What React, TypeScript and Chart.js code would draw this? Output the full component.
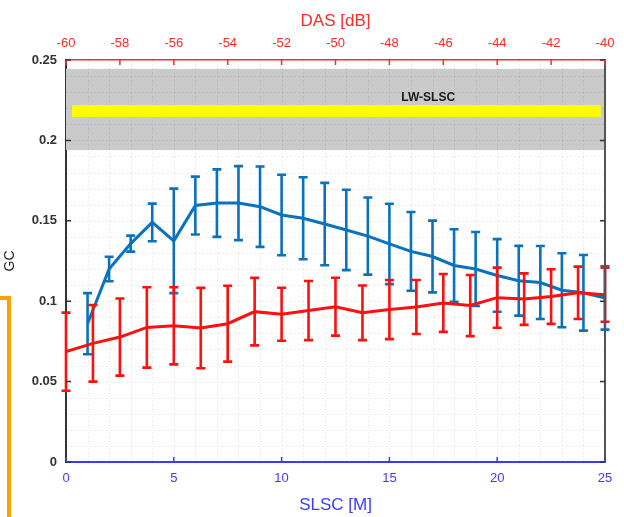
import React, { useEffect, useRef } from "react";
import { Chart, registerables } from "chart.js";

Chart.register(...registerables);

// ---- data ----
const slscM = [1, 2, 3, 4, 5, 6, 7, 8, 9, 10, 11, 12, 13, 14, 15, 16, 17, 18, 19, 20, 21, 22, 23, 24, 25];
const slscGC = [0.086, 0.12, 0.1358, 0.149, 0.1375, 0.1595, 0.161, 0.161, 0.1588, 0.1536, 0.1516, 0.148, 0.1443, 0.1405, 0.1356, 0.131, 0.1278, 0.1222, 0.12, 0.116, 0.1127, 0.1116, 0.1068, 0.1052, 0.102];
const slscErr = [0.019, 0.0076, 0.005, 0.0117, 0.0325, 0.018, 0.021, 0.023, 0.025, 0.025, 0.0255, 0.0256, 0.025, 0.024, 0.025, 0.0245, 0.0223, 0.0225, 0.023, 0.0226, 0.0217, 0.0227, 0.023, 0.0235, 0.0197];

const dasDB = [-60, -59, -58, -57, -56, -55, -54, -53, -52, -51, -50, -49, -48, -47, -46, -45, -44, -43, -42, -41, -40];
const dasGC = [0.0686, 0.0738, 0.0777, 0.0837, 0.0847, 0.0833, 0.086, 0.0935, 0.0919, 0.0942, 0.0966, 0.0928, 0.0948, 0.0964, 0.0989, 0.0973, 0.1022, 0.1013, 0.1029, 0.1052, 0.104];
const dasErr = [0.0243, 0.0238, 0.024, 0.025, 0.024, 0.025, 0.0236, 0.021, 0.0165, 0.0184, 0.018, 0.017, 0.0184, 0.0168, 0.018, 0.019, 0.0187, 0.016, 0.017, 0.0163, 0.0168];

const lwSlscGC = 0.2183;
const lwSlscBand = [0.194, 0.2445];
const lwSlscLabel = "LW-SLSC";
const lwSlscLabelX = 16.8;

const FONT = "'Liberation Sans', Arial, sans-serif";
const BLUE = "#0a72bd";
const RED = "#ff1010";
const AXBLUE = "#3b3bff";
const AXRED = "#ff2a2a";

const bgPlugin = {
  id: "bgPlugin",
  beforeDatasetsDraw(chart: any) {
    const { ctx, chartArea } = chart;
    const xs = chart.scales.x;
    const ys = chart.scales.y;
    ctx.save();
    // gray band
    const yTop = ys.getPixelForValue(lwSlscBand[1]);
    const yBot = ys.getPixelForValue(lwSlscBand[0]);
    ctx.fillStyle = "#cacaca";
    ctx.fillRect(chartArea.left, yTop, chartArea.right - chartArea.left, yBot - yTop);
    // minor grid
    ctx.strokeStyle = "rgba(0,0,0,0.07)";
    ctx.lineWidth = 1;
    ctx.setLineDash([2, 2]);
    for (let v = 1; v < 25; v++) {
      const x = Math.round(xs.getPixelForValue(v)) + 0.5;
      ctx.beginPath();
      ctx.moveTo(x, chartArea.top);
      ctx.lineTo(x, chartArea.bottom);
      ctx.stroke();
    }
    for (let k = 1; k < 25; k++) {
      const y = Math.round(ys.getPixelForValue(k / 100)) + 0.5;
      ctx.beginPath();
      ctx.moveTo(chartArea.left, y);
      ctx.lineTo(chartArea.right, y);
      ctx.stroke();
    }
    ctx.setLineDash([]);
    // yellow line
    const yy = ys.getPixelForValue(lwSlscGC);
    ctx.strokeStyle = "#ffff00";
    ctx.lineWidth = 12;
    ctx.beginPath();
    ctx.moveTo(xs.getPixelForValue(0.28), yy);
    ctx.lineTo(xs.getPixelForValue(24.8), yy);
    ctx.stroke();
    ctx.strokeStyle = "rgba(200,215,120,0.6)";
    ctx.lineWidth = 1;
    ctx.beginPath();
    ctx.moveTo(xs.getPixelForValue(0.28), yy + 10.5);
    ctx.lineTo(xs.getPixelForValue(24.8), yy + 10.5);
    ctx.stroke();
    // label
    ctx.fillStyle = "#1a1a1a";
    ctx.font = `bold 12px ${FONT}`;
    ctx.textAlign = "center";
    ctx.textBaseline = "bottom";
    ctx.fillText(lwSlscLabel, xs.getPixelForValue(lwSlscLabelX), yy - 7);
    ctx.restore();
  },
  afterDraw(chart: any) {
    const { ctx, chartArea } = chart;
    const xs = chart.scales.x;
    const x2 = chart.scales.x2;
    const ys = chart.scales.y;
    ctx.save();
    // right border
    ctx.strokeStyle = "#555";
    ctx.lineWidth = 2;
    ctx.beginPath();
    ctx.moveTo(chartArea.right, chartArea.top);
    ctx.lineTo(chartArea.right, chartArea.bottom);
    ctx.stroke();
    ctx.lineWidth = 1.5;
    // y ticks inward
    ctx.strokeStyle = "#333";
    ys.ticks.forEach((t: any) => {
      const y = ys.getPixelForValue(t.value);
      ctx.beginPath();
      ctx.moveTo(chartArea.left, y);
      ctx.lineTo(chartArea.left + 5, y);
      ctx.moveTo(chartArea.right, y);
      ctx.lineTo(chartArea.right - 5, y);
      ctx.stroke();
    });
    ctx.strokeStyle = AXBLUE;
    xs.ticks.forEach((t: any) => {
      const x = xs.getPixelForValue(t.value);
      ctx.beginPath();
      ctx.moveTo(x, chartArea.bottom);
      ctx.lineTo(x, chartArea.bottom - 5);
      ctx.stroke();
    });
    ctx.strokeStyle = AXRED;
    x2.ticks.forEach((t: any) => {
      const x = x2.getPixelForValue(t.value);
      ctx.beginPath();
      ctx.moveTo(x, chartArea.top);
      ctx.lineTo(x, chartArea.top + 5);
      ctx.stroke();
    });
    ctx.restore();
  },
};

const errorBarPlugin = {
  id: "errorBars",
  afterDatasetDraw(chart: any, args: any) {
    const ds: any = chart.data.datasets[args.index];
    const errs: number[] = ds.errors;
    if (!errs) return;
    const meta = args.meta;
    const xs = chart.scales[meta.xAxisID];
    const ys = chart.scales[meta.yAxisID];
    const ctx = chart.ctx;
    ctx.save();
    ctx.strokeStyle = ds.borderColor;
    ctx.lineWidth = 2.6;
    ctx.lineCap = "butt";
    ds.data.forEach((p: any, i: number) => {
      const x = xs.getPixelForValue(p.x);
      const y1 = ys.getPixelForValue(p.y + errs[i]);
      const y2 = ys.getPixelForValue(p.y - errs[i]);
      ctx.beginPath();
      ctx.moveTo(x, y1);
      ctx.lineTo(x, y2);
      ctx.moveTo(x - 4.5, y1);
      ctx.lineTo(x + 4.5, y1);
      ctx.moveTo(x - 4.5, y2);
      ctx.lineTo(x + 4.5, y2);
      ctx.stroke();
    });
    ctx.restore();
  },
};

export default function App() {
  const ref = useRef<HTMLCanvasElement | null>(null);
  useEffect(() => {
    if (!ref.current) return;
    const chart = new Chart(ref.current, {
      type: "line",
      data: {
        datasets: [
          {
            label: "DAS",
            data: dasDB.map((x, i) => ({ x, y: dasGC[i] })),
            errors: dasErr,
            xAxisID: "x2",
            yAxisID: "y",
            borderColor: RED,
            backgroundColor: RED,
            borderWidth: 3,
            pointRadius: 0,
            tension: 0,
          } as any,
          {
            label: "SLSC",
            data: slscM.map((x, i) => ({ x, y: slscGC[i] })),
            errors: slscErr,
            xAxisID: "x",
            yAxisID: "y",
            borderColor: BLUE,
            backgroundColor: BLUE,
            borderWidth: 3,
            pointRadius: 0,
            tension: 0,
          } as any,
        ],
      },
      options: {
        animation: false,
        responsive: true,
        maintainAspectRatio: false,
        layout: { padding: { left: 0, right: 19, top: 0, bottom: 0 } },
        plugins: { legend: { display: false }, tooltip: { enabled: false } },
        scales: {
          x: {
            type: "linear",
            position: "bottom",
            min: 0,
            max: 25,
            afterFit: (s: any) => { s.height = 55; },
            ticks: { stepSize: 5, color: AXBLUE, font: { family: FONT, size: 13 }, padding: 9, maxRotation: 0 },
            grid: { display: false, drawTicks: false },
            border: { display: true, color: AXBLUE, width: 2 },
            title: { display: true, text: "SLSC [M]", color: AXBLUE, font: { family: FONT, size: 17 }, padding: { top: 0, bottom: 1 } },
          },
          x2: {
            type: "linear",
            position: "top",
            min: -60,
            max: -40,
            afterFit: (s: any) => { s.height = 60; },
            ticks: { stepSize: 2, color: AXRED, font: { family: FONT, size: 13 }, padding: 9, maxRotation: 0 },
            grid: { display: false, drawTicks: false },
            border: { display: true, color: AXRED, width: 1.5 },
            title: { display: true, text: "DAS [dB]", color: AXRED, font: { family: FONT, size: 17 }, padding: { top: 11, bottom: 0 } },
          },
          y: {
            type: "linear",
            position: "left",
            min: 0,
            max: 0.25,
            afterFit: (s: any) => { s.width = 66; },
            ticks: {
              stepSize: 0.05,
              color: "#333",
              font: { family: FONT, size: 13, weight: "bold" },
              padding: 9,
              callback: (v: any) => String(Number(Number(v).toFixed(2))),
            },
            grid: { display: false, drawTicks: false },
            border: { display: true, color: "#333", width: 2 },
            title: { display: true, text: "GC", color: "#222", font: { family: FONT, size: 14 }, padding: { top: 2, bottom: 0 } },
          },
        },
      } as any,
      plugins: [bgPlugin, errorBarPlugin],
    });
    return () => chart.destroy();
  }, []);

  return (
    <div style={{ position: "fixed", left: 0, top: 0, width: 624, height: 517, background: "#fff" }}>
      <canvas ref={ref} />
      <div
        style={{
          position: "absolute",
          left: -6,
          top: 296,
          width: 13,
          height: 240,
          borderTop: "4px solid #ffa000",
          borderRight: "4px solid #ffa000",
        }}
      />
    </div>
  );
}
